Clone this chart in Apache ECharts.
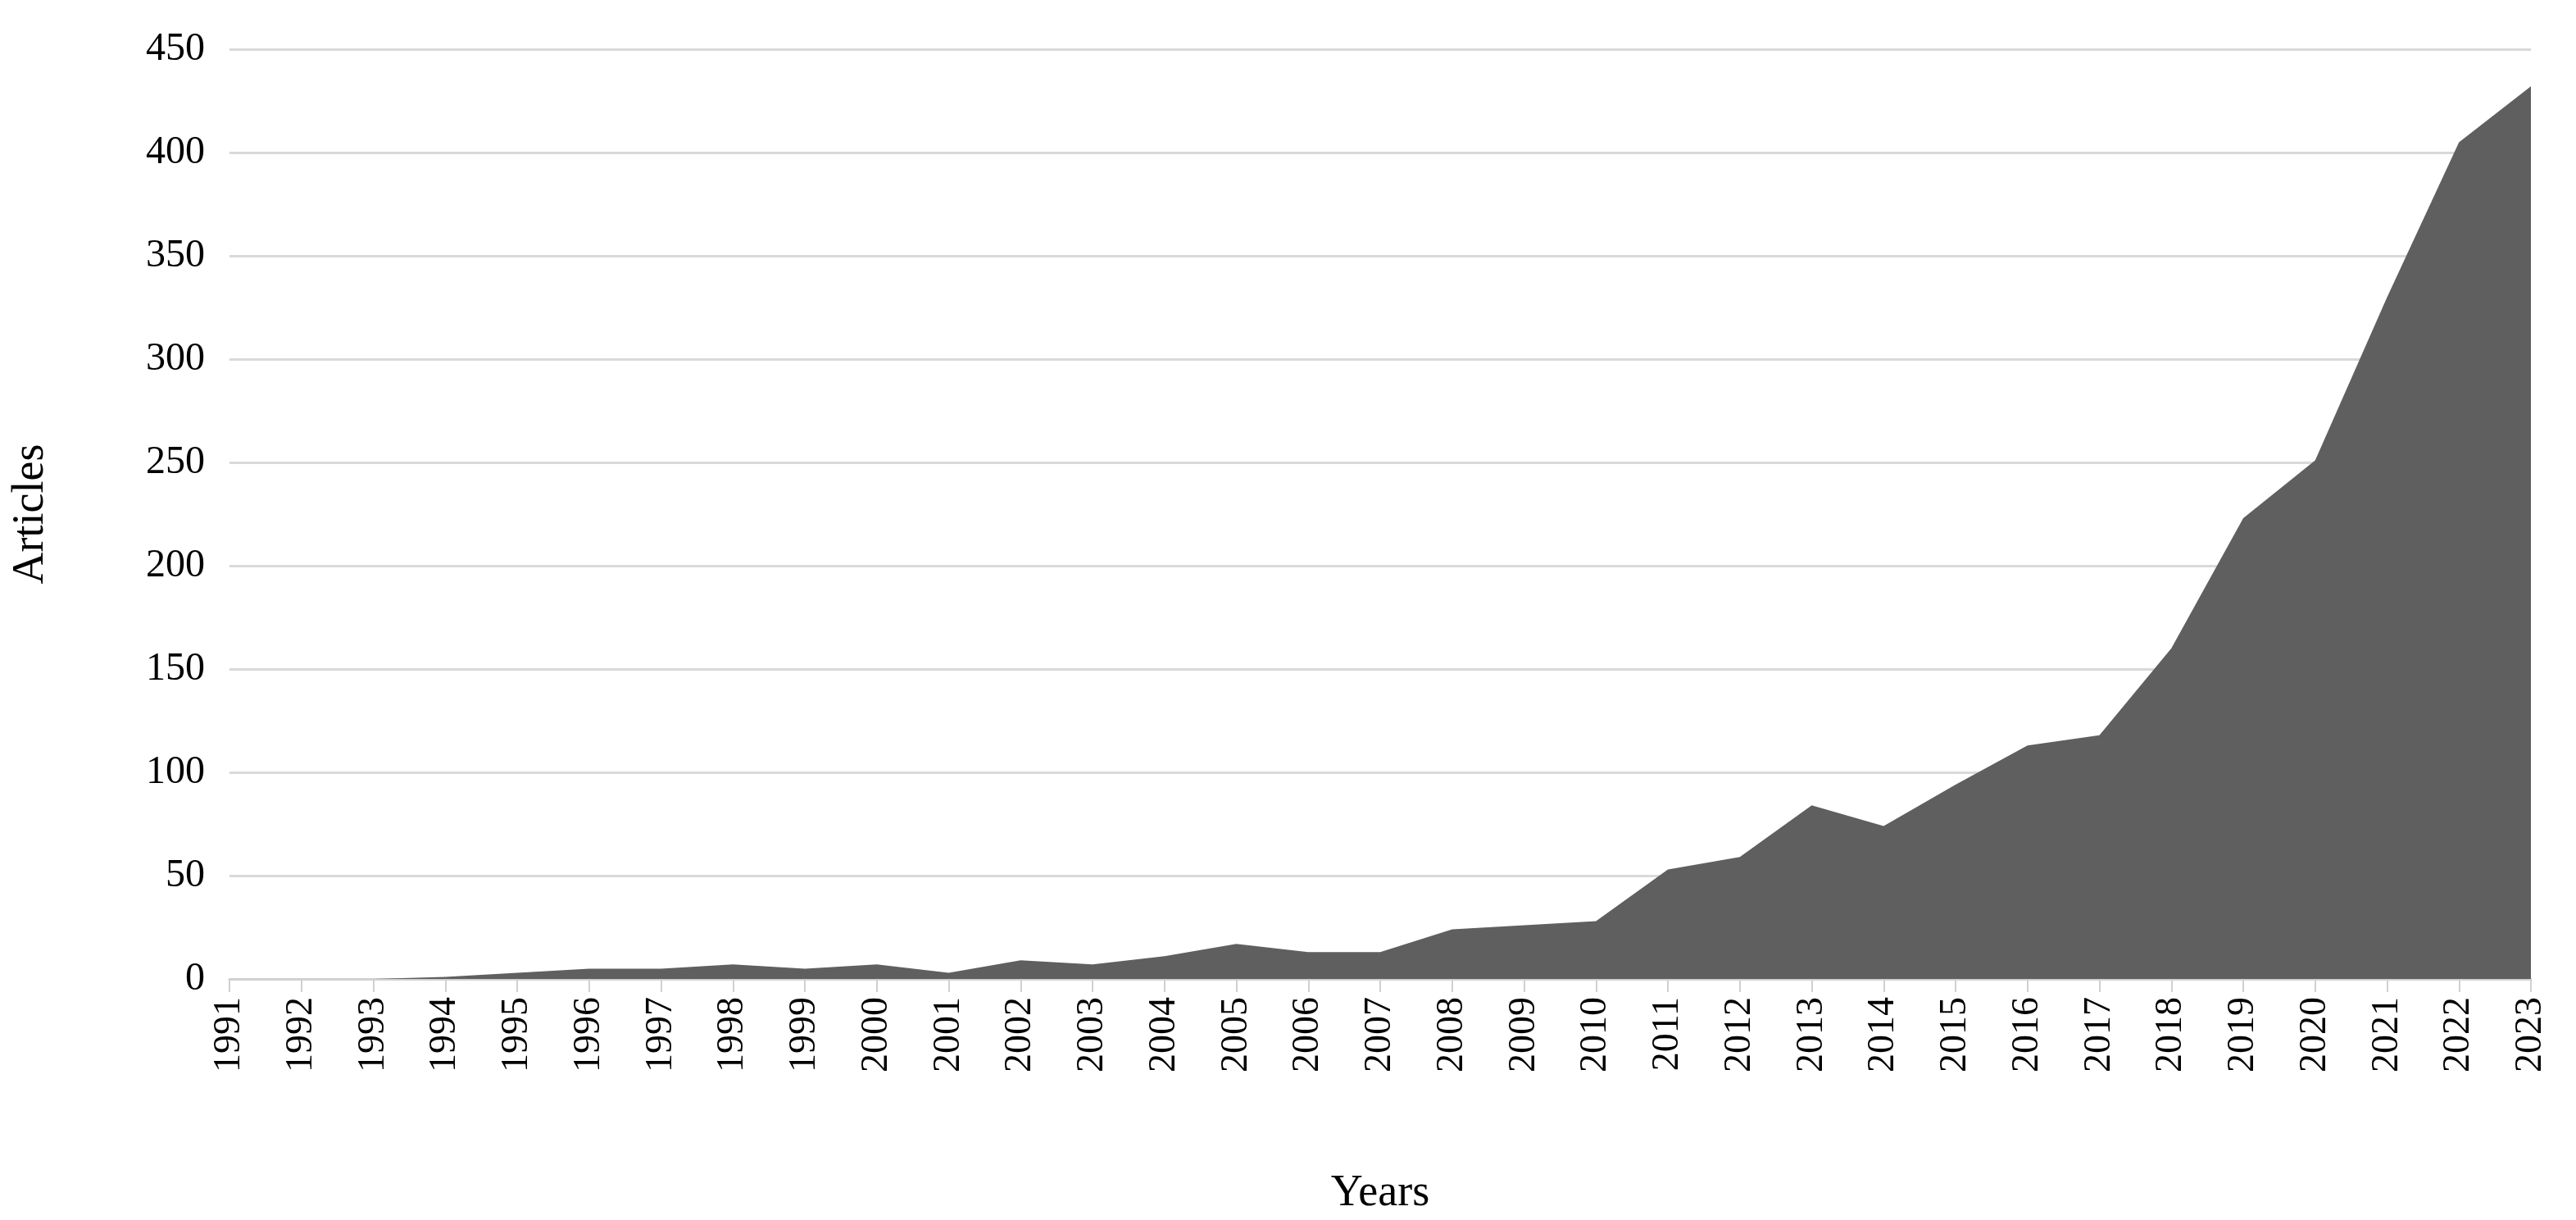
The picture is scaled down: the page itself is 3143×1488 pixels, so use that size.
<!DOCTYPE html>
<html><head><meta charset="utf-8">
<script src="https://cdn.jsdelivr.net/npm/echarts@6/dist/echarts.min.js"></script>
<style>html,body{margin:0;padding:0;background:#fff}#c{width:3143px;height:1488px}</style>
</head><body><div id="c"></div>
<script>
const years = ['1991','1992','1993','1994','1995','1996','1997','1998','1999','2000','2001','2002','2003','2004','2005','2006','2007','2008','2009','2010','2011','2012','2013','2014','2015','2016','2017','2018','2019','2020','2021','2022','2023'];
const articles = [0,0,0,1,3,5,5,7,5,7,3,9,7,11,17,13,13,24,26,28,53,59,84,74,94,113,118,160,223,251,330,405,432];
const yTicks = [0,50,100,150,200,250,300,350,400,450];
const font = 'Liberation Serif';
const chart = echarts.init(document.getElementById('c'));
chart.setOption({
  animation:false,
  grid:{left:280,right:55,top:60,bottom:294},
  xAxis:{type:'category',data:years,boundaryGap:false,
    name:'Years',nameLocation:'middle',nameGap:235,
    nameTextStyle:{fontFamily:font,fontSize:54,color:'#000'},
    axisLine:{lineStyle:{color:'#d0d0d0',width:3}},
    axisTick:{show:true,length:16,lineStyle:{color:'#d0d0d0',width:2}},
    axisLabel:{rotate:90,fontFamily:font,fontSize:46,color:'#000',margin:22,interval:0}},
  yAxis:{type:'value',min:0,max:450,interval:50,
    name:'Articles',nameLocation:'middle',nameGap:215,
    nameTextStyle:{fontFamily:font,fontSize:54,color:'#000'},
    axisLine:{show:false},axisTick:{show:false},
    axisLabel:{fontFamily:font,fontSize:48,color:'#000',margin:30,
      formatter:v=>yTicks.includes(v)?String(v):''},
    splitLine:{lineStyle:{color:'#d9d9d9',width:3}}},
  series:[{type:'line',data:articles,symbol:'none',
    lineStyle:{width:0},areaStyle:{color:'#5f5f5f',opacity:1}}]
});
</script></body></html>
